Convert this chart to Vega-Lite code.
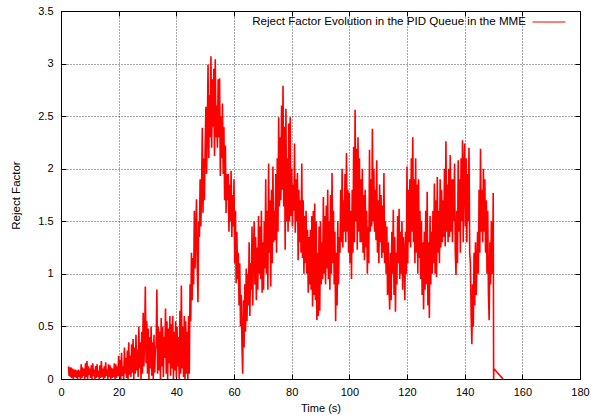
{
"$schema":"https://vega.github.io/schema/vega-lite/v6.json",
"width":519,"height":368,
"autosize":{"type":"none"},
"padding":{"left":61,"top":11,"right":11,"bottom":40},
"background":"white",
"config":{"view":{"stroke":"black","strokeWidth":1},"font":"Liberation Sans"},
"datasets":{
"m":[{"t":0,"v":0}],
"rf":[
{"t":2.6,"v":0.12},{"t":2.8,"v":0.03},
{"t":3,"v":0.11},{"t":3.25,"v":0.02},{"t":3.5,"v":0.11},{"t":3.75,"v":0.01},
{"t":4,"v":0.1},{"t":4.25,"v":0},{"t":4.5,"v":0.09},{"t":4.75,"v":0.02},
{"t":5,"v":0.09},{"t":5.25,"v":0.01},{"t":5.5,"v":0.08},{"t":5.75,"v":0},
{"t":6,"v":0.09},{"t":6.25,"v":0.02},{"t":6.5,"v":0.08},{"t":6.75,"v":0},
{"t":7,"v":0.14},{"t":7.25,"v":0.01},{"t":7.5,"v":0.11},{"t":7.75,"v":0.03},
{"t":8,"v":0.1},{"t":8.25,"v":0},{"t":8.5,"v":0.15},{"t":8.75,"v":0.02},
{"t":9,"v":0.17},{"t":9.25,"v":0},{"t":9.5,"v":0.12},{"t":9.75,"v":0.04},
{"t":10,"v":0.1},{"t":10.25,"v":0.01},{"t":10.5,"v":0.13},{"t":10.75,"v":0},
{"t":11,"v":0.15},{"t":11.25,"v":0.03},{"t":11.5,"v":0.09},{"t":11.75,"v":0},
{"t":12,"v":0.12},{"t":12.25,"v":0.01},{"t":12.5,"v":0.14},{"t":12.75,"v":0.02},
{"t":13,"v":0.08},{"t":13.25,"v":0},{"t":13.5,"v":0.13},{"t":13.75,"v":0.01},
{"t":14,"v":0.17},{"t":14.25,"v":0.02},{"t":14.5,"v":0.1},{"t":14.75,"v":0},
{"t":15,"v":0.12},{"t":15.25,"v":0.01},{"t":15.5,"v":0.16},{"t":15.75,"v":0.03},
{"t":16,"v":0.09},{"t":16.25,"v":0},{"t":16.5,"v":0.14},{"t":16.75,"v":0.02},
{"t":17,"v":0.13},{"t":17.25,"v":0},{"t":17.5,"v":0.11},{"t":17.75,"v":0.01},
{"t":18,"v":0.1},{"t":18.25,"v":0.02},{"t":18.5,"v":0.15},{"t":18.75,"v":0},
{"t":19,"v":0.14},{"t":19.25,"v":0.01},{"t":19.5,"v":0.12},{"t":19.75,"v":0.03},
{"t":20,"v":0.22},{"t":20.25,"v":0.02},{"t":20.5,"v":0.18},{"t":20.75,"v":0},
{"t":21,"v":0.25},{"t":21.25,"v":0.03},{"t":21.5,"v":0.12},{"t":21.75,"v":0},
{"t":22,"v":0.3},{"t":22.25,"v":0.05},{"t":22.5,"v":0.2},{"t":22.75,"v":0.01},
{"t":23,"v":0.27},{"t":23.25,"v":0},{"t":23.5,"v":0.35},{"t":23.75,"v":0.04},
{"t":24,"v":0.22},{"t":24.25,"v":0.02},{"t":24.5,"v":0.33},{"t":24.75,"v":0.06},
{"t":25,"v":0.38},{"t":25.25,"v":0},{"t":25.5,"v":0.3},{"t":25.75,"v":0.05},
{"t":26,"v":0.42},{"t":26.25,"v":0.08},{"t":26.5,"v":0.28},{"t":26.75,"v":0.02},
{"t":27,"v":0.5},{"t":27.25,"v":0.1},{"t":27.5,"v":0.35},{"t":27.75,"v":0},
{"t":28,"v":0.45},{"t":28.25,"v":0.05},{"t":28.5,"v":0.63},{"t":28.75,"v":0.12},
{"t":29,"v":0.4},{"t":29.25,"v":0.88},{"t":29.5,"v":0.15},{"t":29.75,"v":0.55},
{"t":30,"v":0.05},{"t":30.25,"v":0.48},{"t":30.5,"v":0},{"t":30.75,"v":0.4},
{"t":31,"v":0.1},{"t":31.25,"v":0.5},{"t":31.5,"v":0.03},{"t":31.75,"v":0.35},
{"t":32,"v":0},{"t":32.25,"v":0.42},{"t":32.5,"v":0.06},{"t":32.75,"v":0.3},
{"t":33,"v":0.3},{"t":33.25,"v":0.85},{"t":33.5,"v":0.05},{"t":33.75,"v":0.5},
{"t":34,"v":0.08},{"t":34.25,"v":0.45},{"t":34.5,"v":0},{"t":34.75,"v":0.58},
{"t":35,"v":0.12},{"t":35.25,"v":0.5},{"t":35.5,"v":0.02},{"t":35.75,"v":0.4},
{"t":36,"v":0.2},{"t":36.25,"v":0.67},{"t":36.5,"v":0.05},{"t":36.75,"v":0.55},
{"t":37,"v":0},{"t":37.25,"v":0.48},{"t":37.5,"v":0.15},{"t":37.75,"v":0.6},
{"t":38,"v":0.03},{"t":38.25,"v":0.52},{"t":38.5,"v":0.1},{"t":38.75,"v":0.6},
{"t":39,"v":0},{"t":39.25,"v":0.45},{"t":39.5,"v":0.08},{"t":39.75,"v":0.55},
{"t":40,"v":0.02},{"t":40.25,"v":0.5},{"t":40.5,"v":0.12},{"t":40.75,"v":0.4},
{"t":41,"v":0},{"t":41.25,"v":0.65},{"t":41.5,"v":0.05},{"t":41.75,"v":0.89},
{"t":42,"v":0.1},{"t":42.25,"v":0.5},{"t":42.5,"v":0.02},{"t":42.75,"v":0.6},
{"t":43,"v":0},{"t":43.25,"v":0.55},{"t":43.5,"v":0.05},{"t":43.75,"v":0.45},
{"t":44,"v":0},{"t":44.25,"v":0.6},{"t":44.5,"v":0.05},{"t":44.75,"v":0.9},
{"t":45,"v":0.55},{"t":45.25,"v":1.2},{"t":45.5,"v":0.75},{"t":45.75,"v":1.15},
{"t":46,"v":0.9},{"t":46.25,"v":1.6},{"t":46.5,"v":1.05},{"t":46.75,"v":1.4},
{"t":47,"v":1.71},{"t":47.25,"v":1.1},{"t":47.5,"v":0.73},{"t":47.75,"v":1.5},
{"t":48,"v":1.35},{"t":48.25,"v":1.9},{"t":48.5,"v":1.45},{"t":48.75,"v":1.8},
{"t":49,"v":2.39},{"t":49.25,"v":1.58},{"t":49.5,"v":2.1},{"t":49.75,"v":1.7},
{"t":50,"v":2.2},{"t":50.25,"v":2.59},{"t":50.5,"v":1.95},{"t":50.75,"v":2.4},
{"t":51,"v":2.99},{"t":51.25,"v":2.1},{"t":51.5,"v":2.7},{"t":51.75,"v":2.3},
{"t":52,"v":3.07},{"t":52.25,"v":2.2},{"t":52.5,"v":2.85},{"t":52.75,"v":2.4},
{"t":53,"v":2.95},{"t":53.25,"v":2.12},{"t":53.5,"v":3.04},{"t":53.75,"v":2.3},
{"t":54,"v":2.6},{"t":54.25,"v":2.2},{"t":54.5,"v":2.85},{"t":54.75,"v":2.3},
{"t":55,"v":2.86},{"t":55.25,"v":1.93},{"t":55.5,"v":2.5},{"t":55.75,"v":2.1},
{"t":56,"v":2.62},{"t":56.25,"v":1.95},{"t":56.5,"v":2.4},{"t":56.75,"v":1.7},
{"t":57,"v":2.22},{"t":57.25,"v":1.58},{"t":57.5,"v":1.95},{"t":57.75,"v":1.7},
{"t":58,"v":1.95},{"t":58.25,"v":1.4},{"t":58.5,"v":1.85},{"t":58.75,"v":1.5},
{"t":59,"v":1.98},{"t":59.25,"v":1.35},{"t":59.5,"v":1.75},{"t":59.75,"v":1.45},
{"t":60,"v":1.9},{"t":60.25,"v":1.1},{"t":60.5,"v":1.6},{"t":60.75,"v":0.91},
{"t":61,"v":1.4},{"t":61.25,"v":0.95},{"t":61.5,"v":1.2},{"t":61.75,"v":0.7},
{"t":62,"v":1.1},{"t":62.25,"v":0.5},{"t":62.5,"v":0.8},{"t":62.75,"v":0.34},
{"t":63,"v":0.05},{"t":63.25,"v":0.75},{"t":63.5,"v":0.3},{"t":63.75,"v":0.9},
{"t":64,"v":0.45},{"t":64.25,"v":1.05},{"t":64.5,"v":0.55},{"t":64.75,"v":1.0},
{"t":65,"v":0.7},{"t":65.25,"v":1.3},{"t":65.5,"v":0.6},{"t":65.75,"v":1.1},
{"t":66,"v":0.85},{"t":66.25,"v":1.45},{"t":66.5,"v":0.7},{"t":66.75,"v":1.2},
{"t":67,"v":1.5},{"t":67.25,"v":0.9},{"t":67.5,"v":1.35},{"t":67.75,"v":0.75},
{"t":68,"v":1.25},{"t":68.25,"v":0.85},{"t":68.5,"v":1.55},{"t":68.75,"v":1.0},
{"t":69,"v":1.45},{"t":69.25,"v":0.95},{"t":69.5,"v":1.6},{"t":69.75,"v":0.82},
{"t":70,"v":1.3},{"t":70.25,"v":0.85},{"t":70.5,"v":1.5},{"t":70.75,"v":1.05},
{"t":71,"v":1.9},{"t":71.25,"v":1.0},{"t":71.5,"v":1.6},{"t":71.75,"v":0.85},
{"t":72,"v":2.05},{"t":72.25,"v":1.2},{"t":72.5,"v":1.7},{"t":72.75,"v":0.88},
{"t":73,"v":1.8},{"t":73.25,"v":1.1},{"t":73.5,"v":2.02},{"t":73.75,"v":1.3},
{"t":74,"v":1.6},{"t":74.25,"v":1.32},{"t":74.5,"v":1.95},{"t":74.75,"v":1.2},
{"t":75,"v":2.1},{"t":75.25,"v":1.4},{"t":75.5,"v":2.49},{"t":75.75,"v":1.64},
{"t":76,"v":2.3},{"t":76.25,"v":1.7},{"t":76.5,"v":2.6},{"t":76.75,"v":1.8},
{"t":77,"v":2.79},{"t":77.25,"v":1.64},{"t":77.5,"v":2.4},{"t":77.75,"v":1.23},
{"t":78,"v":2.57},{"t":78.25,"v":1.5},{"t":78.5,"v":2.1},{"t":78.75,"v":1.4},
{"t":79,"v":2.43},{"t":79.25,"v":1.5},{"t":79.5,"v":2.49},{"t":79.75,"v":1.55},
{"t":80,"v":2.0},{"t":80.25,"v":1.45},{"t":80.5,"v":1.85},{"t":80.75,"v":1.6},
{"t":81,"v":2.24},{"t":81.25,"v":1.39},{"t":81.5,"v":1.9},{"t":81.75,"v":1.5},
{"t":82,"v":1.96},{"t":82.25,"v":1.13},{"t":82.5,"v":1.8},{"t":82.75,"v":1.3},
{"t":83,"v":1.7},{"t":83.25,"v":1.2},{"t":83.5,"v":2.05},{"t":83.75,"v":1.15},
{"t":84,"v":1.7},{"t":84.25,"v":1.0},{"t":84.5,"v":1.55},{"t":84.75,"v":1.1},
{"t":85,"v":1.6},{"t":85.25,"v":1.0},{"t":85.5,"v":1.42},{"t":85.75,"v":0.82},
{"t":86,"v":1.35},{"t":86.25,"v":0.9},{"t":86.5,"v":1.42},{"t":86.75,"v":0.85},
{"t":87,"v":1.55},{"t":87.25,"v":0.69},{"t":87.5,"v":1.6},{"t":87.75,"v":0.8},
{"t":88,"v":1.67},{"t":88.25,"v":0.75},{"t":88.5,"v":1.5},{"t":88.75,"v":0.56},
{"t":89,"v":1.2},{"t":89.25,"v":0.6},{"t":89.5,"v":1.45},{"t":89.75,"v":0.65},
{"t":90,"v":1.5},{"t":90.25,"v":0.9},{"t":90.5,"v":1.3},{"t":90.75,"v":0.95},
{"t":91,"v":1.73},{"t":91.25,"v":1.0},{"t":91.5,"v":1.55},{"t":91.75,"v":0.9},
{"t":92,"v":1.65},{"t":92.25,"v":1.05},{"t":92.5,"v":1.8},{"t":92.75,"v":0.95},
{"t":93,"v":1.5},{"t":93.25,"v":0.85},{"t":93.5,"v":1.75},{"t":93.75,"v":1.0},
{"t":94,"v":1.96},{"t":94.25,"v":1.1},{"t":94.5,"v":1.6},{"t":94.75,"v":0.9},
{"t":95,"v":1.4},{"t":95.25,"v":0.55},{"t":95.5,"v":1.2},{"t":95.75,"v":0.7},
{"t":96,"v":1.5},{"t":96.25,"v":0.9},{"t":96.5,"v":1.35},{"t":96.75,"v":1.2},
{"t":97,"v":1.8},{"t":97.25,"v":1.3},{"t":97.5,"v":2.0},{"t":97.75,"v":1.25},
{"t":98,"v":1.7},{"t":98.25,"v":1.4},{"t":98.5,"v":1.95},{"t":98.75,"v":1.3},
{"t":99,"v":2.15},{"t":99.25,"v":1.4},{"t":99.5,"v":1.8},{"t":99.75,"v":1.2},
{"t":100,"v":1.77},{"t":100.25,"v":1.1},{"t":100.5,"v":1.6},{"t":100.75,"v":0.95},
{"t":101,"v":1.8},{"t":101.25,"v":1.2},{"t":101.5,"v":2.21},{"t":101.75,"v":1.3},
{"t":102,"v":2.56},{"t":102.25,"v":1.5},{"t":102.5,"v":2.19},{"t":102.75,"v":1.23},
{"t":103,"v":2.3},{"t":103.25,"v":1.4},{"t":103.5,"v":2.1},{"t":103.75,"v":1.3},
{"t":104,"v":1.9},{"t":104.25,"v":1.3},{"t":104.5,"v":2.0},{"t":104.75,"v":1.2},
{"t":105,"v":1.75},{"t":105.25,"v":1.13},{"t":105.5,"v":1.8},{"t":105.75,"v":1.25},
{"t":106,"v":1.6},{"t":106.25,"v":1.0},{"t":106.5,"v":1.45},{"t":106.75,"v":1.1},
{"t":107,"v":2.18},{"t":107.25,"v":1.4},{"t":107.5,"v":1.9},{"t":107.75,"v":1.45},
{"t":108,"v":2.38},{"t":108.25,"v":1.5},{"t":108.5,"v":2.0},{"t":108.75,"v":1.4},
{"t":109,"v":1.8},{"t":109.25,"v":1.32},{"t":109.5,"v":2.08},{"t":109.75,"v":1.2},
{"t":110,"v":1.7},{"t":110.25,"v":1.1},{"t":110.5,"v":1.85},{"t":110.75,"v":1.3},
{"t":111,"v":1.75},{"t":111.25,"v":1.15},{"t":111.5,"v":1.65},{"t":111.75,"v":1.2},
{"t":112,"v":1.96},{"t":112.25,"v":1.1},{"t":112.5,"v":1.5},{"t":112.75,"v":1.0},
{"t":113,"v":1.45},{"t":113.25,"v":0.8},{"t":113.5,"v":1.3},{"t":113.75,"v":0.9},
{"t":114,"v":0.66},{"t":114.25,"v":1.2},{"t":114.5,"v":0.75},{"t":114.75,"v":1.4},
{"t":115,"v":1.0},{"t":115.25,"v":1.61},{"t":115.5,"v":0.8},{"t":115.75,"v":1.35},
{"t":116,"v":0.64},{"t":116.25,"v":1.2},{"t":116.5,"v":0.9},{"t":116.75,"v":1.55},
{"t":117,"v":1.1},{"t":117.25,"v":1.62},{"t":117.5,"v":0.95},{"t":117.75,"v":1.4},
{"t":118,"v":1.0},{"t":118.25,"v":1.5},{"t":118.5,"v":0.85},{"t":118.75,"v":1.35},
{"t":119,"v":1.2},{"t":119.25,"v":0.75},{"t":119.5,"v":1.4},{"t":119.75,"v":1.0},
{"t":120,"v":2.02},{"t":120.25,"v":1.1},{"t":120.5,"v":1.8},{"t":120.75,"v":1.3},
{"t":121,"v":1.9},{"t":121.25,"v":1.25},{"t":121.5,"v":2.1},{"t":121.75,"v":1.4},
{"t":122,"v":2.3},{"t":122.25,"v":1.3},{"t":122.5,"v":1.9},{"t":122.75,"v":1.1},
{"t":123,"v":2.1},{"t":123.25,"v":1.2},{"t":123.5,"v":1.85},{"t":123.75,"v":1.0},
{"t":124,"v":1.9},{"t":124.25,"v":1.15},{"t":124.5,"v":1.6},{"t":124.75,"v":0.95},
{"t":125,"v":1.5},{"t":125.25,"v":0.8},{"t":125.5,"v":1.3},{"t":125.75,"v":0.66},
{"t":126,"v":1.4},{"t":126.25,"v":0.85},{"t":126.5,"v":1.6},{"t":126.75,"v":0.9},
{"t":127,"v":1.78},{"t":127.25,"v":0.7},{"t":127.5,"v":1.3},{"t":127.75,"v":0.58},
{"t":128,"v":1.55},{"t":128.25,"v":0.9},{"t":128.5,"v":1.4},{"t":128.75,"v":1.0},
{"t":129,"v":1.6},{"t":129.25,"v":1.1},{"t":129.5,"v":1.86},{"t":129.75,"v":1.0},
{"t":130,"v":1.7},{"t":130.25,"v":0.97},{"t":130.5,"v":1.92},{"t":130.75,"v":1.2},
{"t":131,"v":1.6},{"t":131.25,"v":1.1},{"t":131.5,"v":1.9},{"t":131.75,"v":1.25},
{"t":132,"v":1.8},{"t":132.25,"v":1.3},{"t":132.5,"v":1.7},{"t":132.75,"v":1.35},
{"t":133,"v":2.0},{"t":133.25,"v":1.26},{"t":133.5,"v":2.26},{"t":133.75,"v":1.4},
{"t":134,"v":1.85},{"t":134.25,"v":1.3},{"t":134.5,"v":2.0},{"t":134.75,"v":1.35},
{"t":135,"v":2.13},{"t":135.25,"v":1.4},{"t":135.5,"v":1.9},{"t":135.75,"v":1.3},
{"t":136,"v":1.9},{"t":136.25,"v":1.5},{"t":136.5,"v":2.05},{"t":136.75,"v":1.2},
{"t":137,"v":0.99},{"t":137.25,"v":1.6},{"t":137.5,"v":1.1},{"t":137.75,"v":2.08},
{"t":138,"v":1.4},{"t":138.25,"v":1.9},{"t":138.5,"v":1.2},{"t":138.75,"v":2.1},
{"t":139,"v":1.5},{"t":139.25,"v":2.27},{"t":139.5,"v":1.3},{"t":139.75,"v":2.0},
{"t":140,"v":2.24},{"t":140.25,"v":1.45},{"t":140.5,"v":2.1},{"t":140.75,"v":1.3},
{"t":141,"v":1.95},{"t":141.25,"v":1.5},{"t":141.5,"v":2.2},{"t":141.75,"v":1.2},
{"t":142,"v":1.1},{"t":142.25,"v":0.6},{"t":142.5,"v":0.33},{"t":142.75,"v":0.9},
{"t":143,"v":0.5},{"t":143.25,"v":1.2},{"t":143.5,"v":0.7},{"t":143.75,"v":1.3},
{"t":144,"v":0.8},{"t":144.25,"v":1.1},{"t":144.5,"v":1.4},{"t":144.75,"v":1.0},
{"t":145,"v":1.8},{"t":145.25,"v":1.2},{"t":145.5,"v":2.19},{"t":145.75,"v":1.4},
{"t":146,"v":1.8},{"t":146.25,"v":1.3},{"t":146.5,"v":2.0},{"t":146.75,"v":1.4},
{"t":147,"v":1.9},{"t":147.25,"v":1.2},{"t":147.5,"v":1.7},{"t":147.75,"v":1.0},
{"t":148,"v":1.6},{"t":148.25,"v":0.8},{"t":148.5,"v":0.56},{"t":148.75,"v":1.3},
{"t":149,"v":0.9},{"t":149.25,"v":1.5},{"t":149.5,"v":1.0},{"t":149.75,"v":1.2},
{"t":149.9,"v":1.77},{"t":150.05,"v":0},{"t":150.1,"v":0.1},{"t":153.3,"v":0}
]},
"layer":[
{"data":{"name":"rf"},
 "mark":{"type":"line","strokeWidth":1.6},
 "encoding":{
  "x":{"field":"t","type":"quantitative","scale":{"domain":[0,180],"nice":false,"zero":false},
   "axis":{"orient":"bottom","values":[0,20,40,60,80,100,120,140,160,180],"tickSize":-5,"tickColor":"black","domain":false,
    "grid":true,"gridColor":"black","gridDash":[1,2],"gridOpacity":0.7,"labelFont":"Liberation Sans","labelFontSize":11,"labelColor":"black","labelPadding":12,"labelFlush":false,
    "title":"Time (s)","titleFont":"Liberation Sans","titleFontSize":11,"titleFontWeight":"normal","titleColor":"black","titlePadding":5}},
  "y":{"field":"v","type":"quantitative","scale":{"domain":[0,3.5],"nice":false},
   "axis":{"orient":"left","values":[0,0.5,1,1.5,2,2.5,3,3.5],"format":"~g","tickSize":-5,"tickColor":"black","domain":false,
    "grid":true,"gridColor":"black","gridDash":[1,2],"gridOpacity":0.7,"labelFont":"Liberation Sans","labelFontSize":11,"labelColor":"black","labelPadding":13,"labelFlush":false,
    "title":"Reject Factor","titleFont":"Liberation Sans","titleFontSize":11.5,"titleFontWeight":"normal","titleColor":"black","titlePadding":16}},
  "color":{"datum":"Reject Factor Evolution in the PID Queue in the MME","type":"nominal","scale":{"range":["#ff0000"]},
   "legend":{"orient":"none","legendX":471,"legendY":-6,"title":null,"symbolType":"stroke","symbolSize":1089,"symbolStrokeWidth":1,"labelAlign":"right","labelOffset":-40,"labelLimit":0,"labelFont":"Liberation Sans","labelFontSize":11.6,"labelColor":"black","padding":0}}
 }},
{"data":{"name":"m"},
 "mark":{"type":"point","opacity":0},
 "encoding":{
  "x":{"field":"t","type":"quantitative","scale":{"domain":[0,180],"nice":false},
   "axis":{"orient":"top","values":[0,20,40,60,80,100,120,140,160,180],"tickSize":-5,"tickColor":"black","domain":false,"grid":false,"labels":false,"title":null}},
  "y":{"field":"v","type":"quantitative","scale":{"domain":[0,3.5],"nice":false},
   "axis":{"orient":"right","values":[0,0.5,1,1.5,2,2.5,3,3.5],"tickSize":-5,"tickColor":"black","domain":false,"grid":false,"labels":false,"title":null}}
 }}
],
"resolve":{"axis":{"x":"independent","y":"independent"}}
}
